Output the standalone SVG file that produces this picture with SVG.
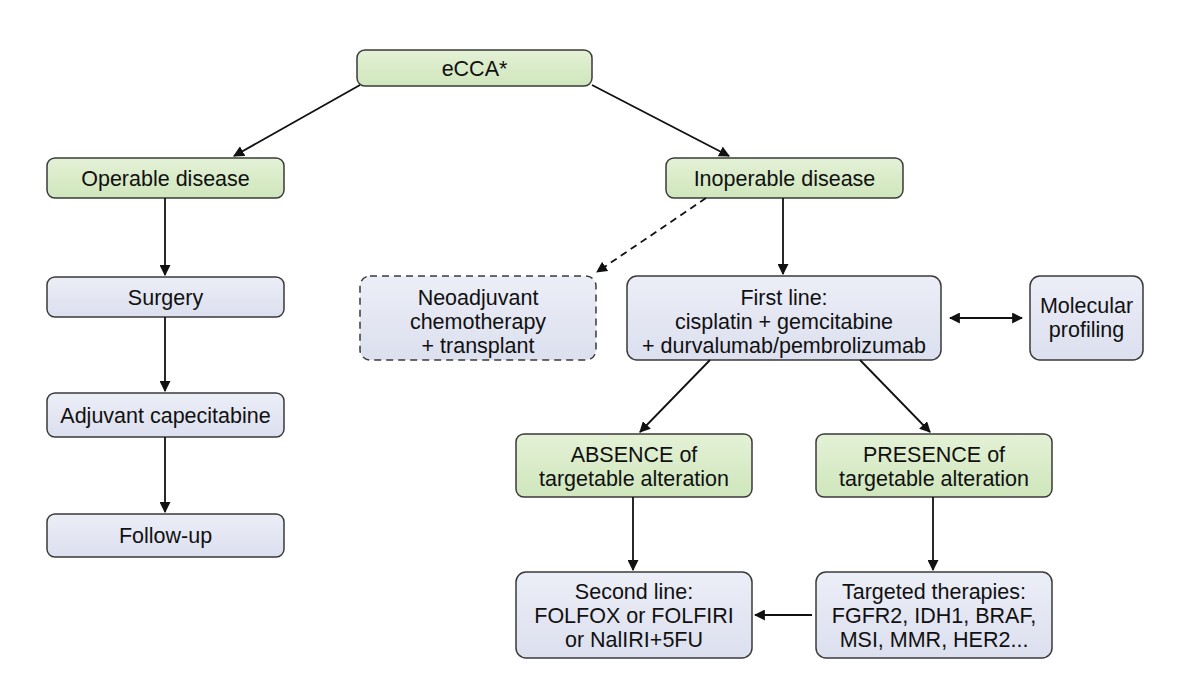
<svg xmlns="http://www.w3.org/2000/svg" width="1200" height="673" viewBox="0 0 1200 673">
<defs>
<linearGradient id="g" x1="0" y1="0" x2="0" y2="1"><stop offset="0" stop-color="#e4f1d6"/><stop offset="1" stop-color="#cfe6bc"/></linearGradient>
<linearGradient id="b" x1="0" y1="0" x2="0" y2="1"><stop offset="0" stop-color="#eceef7"/><stop offset="1" stop-color="#dcdfee"/></linearGradient>
<marker id="a" viewBox="0 0 10 10" refX="9" refY="5" markerWidth="11" markerHeight="11" markerUnits="userSpaceOnUse" orient="auto-start-reverse"><path d="M0,0 L10,5 L0,10 z" fill="#111"/></marker>
</defs>
<style>
rect{stroke:#3a3a3a;stroke-width:1.5}
.g{fill:url(#g)}.b{fill:url(#b)}
text{font-family:"Liberation Sans",Arial,sans-serif;font-size:21.5px;fill:#111;text-anchor:middle}
.c line{stroke:#111;stroke-width:1.8;marker-end:url(#a)}
</style>
<rect width="1200" height="673" fill="#fff" style="stroke:none"/>
<g id="ecca"><rect class="g" x="357" y="50" width="235" height="36" rx="8"/><text x="474.5" y="76">eCCA*</text></g>
<g id="operable"><rect class="g" x="47" y="158" width="237" height="40" rx="8"/><text x="165.5" y="186">Operable disease</text></g>
<g id="inoperable"><rect class="g" x="666" y="158" width="237" height="40" rx="8"/><text x="784.5" y="186">Inoperable disease</text></g>
<g id="surgery"><rect class="b" x="47" y="277" width="237" height="40" rx="8"/><text x="165.5" y="305">Surgery</text></g>
<g id="adjuvant"><rect class="b" x="47" y="393" width="237" height="44" rx="8"/><text x="165.5" y="423">Adjuvant capecitabine</text></g>
<g id="followup"><rect class="b" x="47" y="514" width="237" height="43" rx="8"/><text x="165.5" y="543">Follow-up</text></g>
<g id="neoadjuvant"><rect class="b" x="360" y="276" width="236" height="84" rx="10" style="stroke-dasharray:7,5"/><text x="478" y="305">Neoadjuvant</text><text x="478" y="329">chemotherapy</text><text x="478" y="353">+ transplant</text></g>
<g id="firstline"><rect class="b" x="627" y="276" width="314" height="84" rx="10"/><text x="784" y="305">First line:</text><text x="784" y="329">cisplatin + gemcitabine</text><text x="784" y="353">+ durvalumab/pembrolizumab</text></g>
<g id="molecular"><rect class="b" x="1030" y="276" width="113" height="84" rx="10"/><text x="1086.5" y="313">Molecular</text><text x="1086.5" y="337">profiling</text></g>
<g id="absence"><rect class="g" x="516" y="434" width="236" height="63" rx="8"/><text x="634" y="462">ABSENCE of</text><text x="634" y="486">targetable alteration</text></g>
<g id="presence"><rect class="g" x="816" y="434" width="236" height="63" rx="8"/><text x="934" y="462">PRESENCE of</text><text x="934" y="486">targetable alteration</text></g>
<g id="secondline"><rect class="b" x="516" y="572" width="236" height="86" rx="10"/><text x="634" y="599">Second line:</text><text x="634" y="623">FOLFOX or FOLFIRI</text><text x="634" y="647">or NalIRI+5FU</text></g>
<g id="targeted"><rect class="b" x="816" y="572" width="236" height="86" rx="10"/><text x="934" y="599">Targeted therapies:</text><text x="934" y="623">FGFR2, IDH1, BRAF,</text><text x="934" y="647">MSI, MMR, HER2...</text></g>
<g class="c" id="connectors">
<line x1="360" y1="85" x2="234" y2="156"/>
<line x1="592" y1="85" x2="729" y2="156"/>
<line x1="165" y1="198" x2="165" y2="275"/>
<line x1="165" y1="317" x2="165" y2="391"/>
<line x1="165" y1="437" x2="165" y2="512"/>
<line x1="706" y1="198" x2="597" y2="272" style="stroke-dasharray:7,5"/>
<line x1="783" y1="198" x2="783" y2="274"/>
<line x1="950" y1="318" x2="1022" y2="318" style="marker-start:url(#a)"/>
<line x1="710" y1="360" x2="640" y2="432"/>
<line x1="860" y1="360" x2="930" y2="432"/>
<line x1="633" y1="497" x2="633" y2="570"/>
<line x1="933" y1="497" x2="933" y2="570"/>
<line x1="812" y1="615" x2="755" y2="615"/>
</g>
</svg>
